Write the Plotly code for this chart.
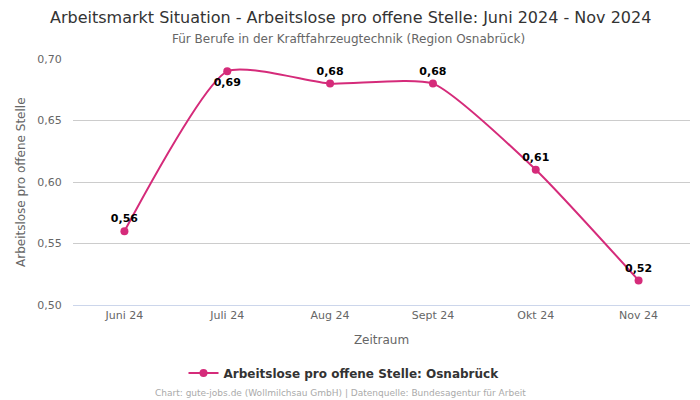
import plotly.graph_objects as go

months = ["Juni 24", "Juli 24", "Aug 24", "Sept 24", "Okt 24", "Nov 24"]
values = [0.56, 0.69, 0.68, 0.68, 0.61, 0.52]
label_pos = ["top center", "bottom center", "top center", "top center", "top center", "top center"]
y_ticks = [0.50, 0.55, 0.60, 0.65, 0.70]

color = "#d52b7a"
font = "DejaVu Sans"
cx = (350 - 73) / 617  # page centre in paper coords

fig = go.Figure()
fig.add_trace(go.Scatter(
    x=months, y=values,
    mode="lines+markers+text",
    line=dict(color=color, width=2, shape="spline", smoothing=0.55),
    marker=dict(color=color, size=8),
    text=[f"{v:.2f}".replace(".", ",") for v in values],
    textposition=label_pos,
    textfont=dict(family=font, size=11, color="#000000", weight="bold"),
    name="Arbeitslose pro offene Stelle: Osnabrück",
    cliponaxis=False,
))

fig.update_layout(
    width=700, height=400,
    separators=", ",
    paper_bgcolor="white", plot_bgcolor="white",
    margin=dict(l=73, r=10, t=59, b=95, autoexpand=False),
    font=dict(family=font, color="#666666"),
    hovermode=False,
    xaxis=dict(
        title=dict(text="Zeitraum", font=dict(size=12, color="#666666"), standoff=14),
        tickfont=dict(size=11, color="#666666"),
        showgrid=False, showline=True, linecolor="#ccd6eb", linewidth=1,
        ticks="", range=[-0.5, 5.5], automargin=False,
    ),
    yaxis=dict(
        tickfont=dict(size=11, color="#666666"),
        range=[0.5, 0.7], tickvals=y_ticks, tickformat=".2f",
        gridcolor="#cccccc", gridwidth=1, zeroline=False, automargin=False,
        ticks="outside", ticklen=8, tickcolor="rgba(0,0,0,0)",
    ),
    showlegend=True,
    legend=dict(
        orientation="h", x=cx - 6 / 617, xanchor="center", y=-0.276, yanchor="middle",
        font=dict(size=12, color="#333333", weight="bold"),
    ),
    annotations=[
        dict(text="Arbeitsmarkt Situation - Arbeitslose pro offene Stelle: Juni 2024 - Nov 2024",
             xref="paper", yref="paper", x=cx, y=1.167, xanchor="center", yanchor="middle",
             showarrow=False, font=dict(size=16, color="#333333")),
        dict(text="Für Berufe in der Kraftfahrzeugtechnik (Region Osnabrück)",
             xref="paper", yref="paper", x=cx - 2 / 617, y=1.081, xanchor="center", yanchor="middle",
             showarrow=False, font=dict(size=12, color="#666666")),
        dict(text="Arbeitslose pro offene Stelle",
             xref="paper", yref="paper", x=0, y=0.5, xanchor="center", yanchor="middle",
             xshift=-52, textangle=-90, showarrow=False, font=dict(size=12, color="#666666")),
        dict(text="Chart: gute-jobs.de (Wollmilchsau GmbH) | Datenquelle: Bundesagentur für Arbeit",
             xref="paper", yref="paper", x=cx - 10 / 617, y=-0.357, xanchor="center", yanchor="middle",
             showarrow=False, font=dict(size=9, color="#aaaaaa")),
    ],
)

fig.write_html("out.html", config={"displayModeBar": False},
               post_script="document.body.style.margin='0';")
